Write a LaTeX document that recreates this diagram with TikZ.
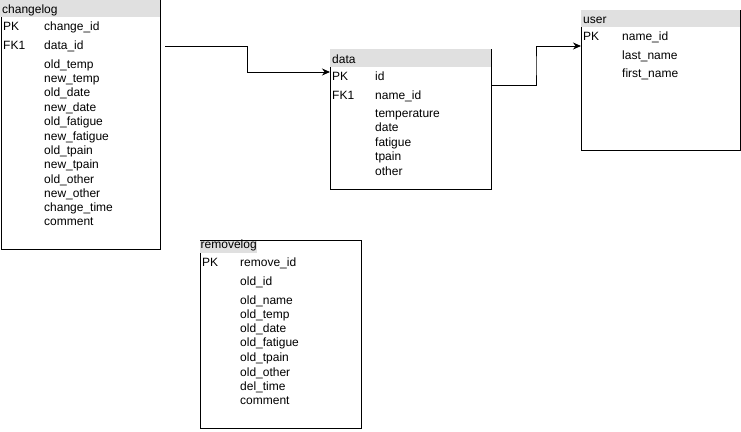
\documentclass[tikz,border=0pt]{standalone}
\usepackage{fontspec}
\setmainfont{Liberation Sans}
\usetikzlibrary{arrows.meta,calc}
\definecolor{hdrgray}{RGB}{224,224,224}
\tikzset{
  fld/.style={anchor=west, inner sep=0pt, text height=8.5pt, text depth=0pt, yshift=-0.8pt, font=\fontsize{12}{14}\selectfont},
  border/.style={line width=1pt},
  conn/.style={line width=1pt, -{Stealth[length=8pt,width=7pt]}},
}

\begin{document}
\begin{tikzpicture}[x=1pt,y=-1pt]
\useasboundingbox (0,0) rectangle (741,431);

% changelog
\fill[hdrgray] (0,0) rectangle (160,17);
\draw[border] (1,17) -- (1,249) -- (160,249) -- (160,0);
\node[fld] (changelog) at (2,8.5) {changelog};
\node[fld] (cl-pk) at (3,25) {PK};
\node[fld] (cl-fk) at (3,44) {FK1};
\foreach \y/\t [count=\i] in {25/change\_id, 44/data\_id, 63/old\_temp, 77/new\_temp,
  91.5/old\_date, 106/new\_date, 120.5/old\_fatigue, 135/new\_fatigue, 149/old\_tpain,
  163.5/new\_tpain, 178/old\_other, 192.5/new\_other, 206.5/change\_time, 220.5/comment}
  \node[fld] (cl-\i) at (44,\y) {\t};

% data
\fill[hdrgray] (330,49) rectangle (491,67);
\draw[border] (330,67) -- (330,189) -- (491,189) -- (491,49);
\node[fld] (data) at (332,58) {data};
\node[fld] (d-pk) at (332,75) {PK};
\node[fld] (d-fk) at (332,94.5) {FK1};
\foreach \y/\t [count=\i] in {75/id, 94.5/name\_id, 112/temperature, 126.5/date,
  141/fatigue, 155.5/tpain, 170/other}
  \node[fld] (d-\i) at (375,\y) {\t};

% user
\fill[hdrgray] (581,10) rectangle (740,27);
\draw[border] (581,27) -- (581,150) -- (740,150) -- (740,10);
\node[fld] (user) at (583,18) {user};
\node[fld] (u-pk) at (583,35) {PK};
\foreach \y/\t [count=\i] in {35/name\_id, 54.5/last\_name, 72.5/first\_name}
  \node[fld] (u-\i) at (622,\y) {\t};

% removelog
\node[fld, anchor=north west, fill=hdrgray, inner xsep=0.5pt, text height=8pt, text depth=4.5pt, yshift=0.8pt] (removelog) at (200,240.5) {removelog};
\draw[border] (200,253) -- (200,428) -- (361,428) -- (361,240) -- (200,240);
\node[fld] (r-pk) at (202,261) {PK};
\foreach \y/\t [count=\i] in {261/remove\_id, 280.5/old\_id, 299/old\_name, 313/old\_temp,
  327.5/old\_date, 341.5/old\_fatigue, 356.5/old\_tpain, 371/old\_other, 385/del\_time, 399/comment}
  \node[fld] (r-\i) at (240,\y) {\t};

% links
\coordinate (cl-out) at (165,46);
\coordinate (data-in) at (330,72);
\coordinate (data-out) at (491,85);
\coordinate (user-in) at (581,46);
\draw[conn] (cl-out) -| ($(cl-out)!.5!(data-in)$) |- (data-in);
\draw[conn] (data-out) -| ($(data-out)!.5!(user-in)$) |- (user-in);
\end{tikzpicture}
\end{document}
